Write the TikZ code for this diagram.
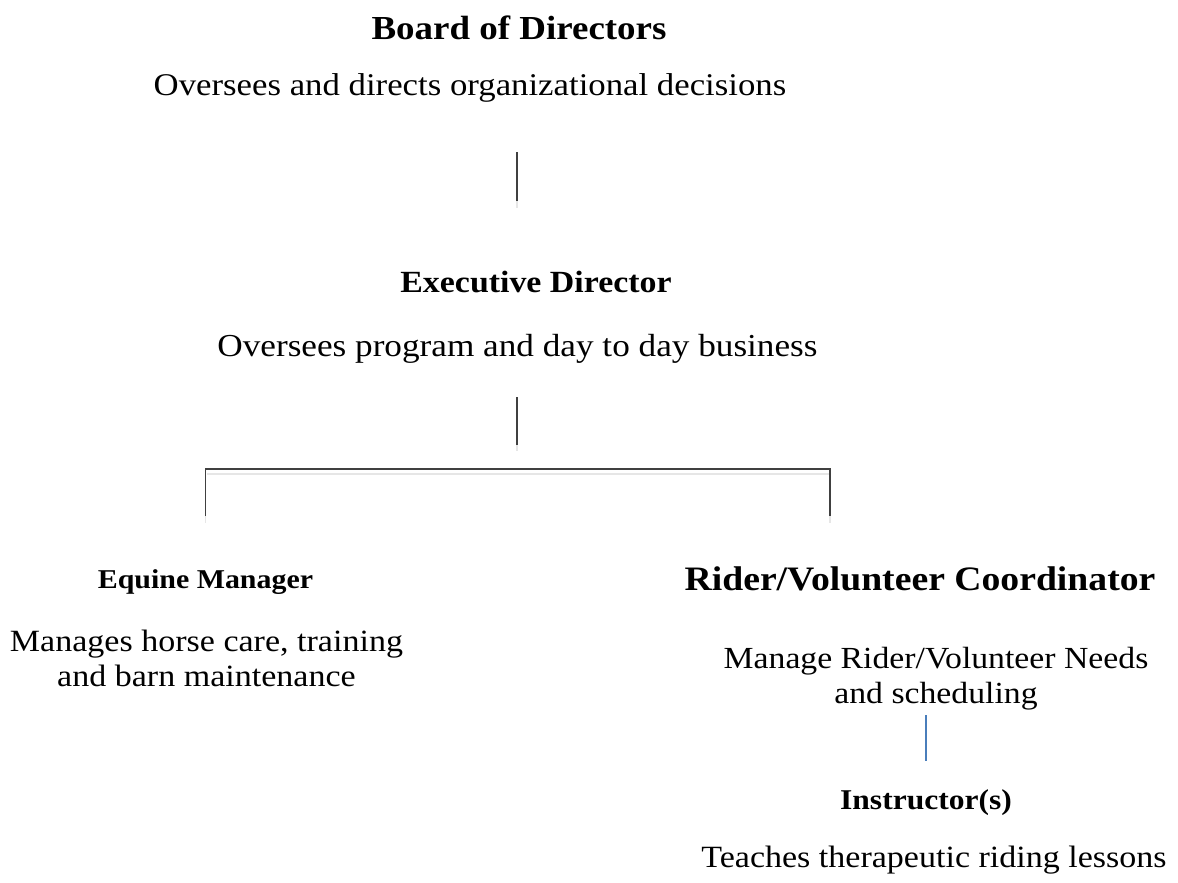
\documentclass[tikz,border=0pt]{standalone}
\usepackage{fontspec}
\setmainfont[FakeStretch=1.1]{Liberation Serif}
\definecolor{linegray}{HTML}{404040}
\definecolor{fadegray}{HTML}{E6E6E6}
\definecolor{lineblue}{HTML}{4A7EBB}
\begin{document}
\begin{tikzpicture}[x=0.75pt,y=-0.75pt,
  title/.style={anchor=base,inner sep=0pt,font=\bfseries\fontsize{#1}{#1}\selectfont},
  desc/.style={anchor=base,inner sep=0pt,align=center,font=\fontsize{#1}{26pt}\selectfont},
  conn/.style={draw=linegray,line width=1.1pt},
  fade/.style={draw=fadegray,line width=1.1pt},
  bconn/.style={draw=lineblue,line width=1.3pt}]
\useasboundingbox (0,0) rectangle (1178,882);
\node[title=25.2pt] (board) at (519,39) {Board of Directors};
\node[desc=23.7pt] (boardd) at (470,95) {Oversees and directs organizational decisions};
\node[title=23.1pt] (exec) at (536,292) {Executive Director};
\node[desc=24pt] (execd) at (517.5,356) {Oversees program and day to day business};
\node[title=20.4pt] (equine) at (205.5,588) {Equine Manager};
\node[desc=23.2pt] (equined) at (206.5,686) {Manages horse care, training\\and barn maintenance};
\node[title=25.7pt] (rider) at (920,590) {Rider/Volunteer Coordinator};
\node[desc=23pt] (riderd) at (936,703) {Manage Rider/Volunteer Needs\\and scheduling};
\node[title=21.5pt] (instr) at (926,809) {Instructor(s)};
\node[desc=23.2pt] (instrd) at (934,867) {Teaches therapeutic riding lessons};
% connectors
\coordinate (a1) at (517,152); \coordinate (a2) at (517,201); \coordinate (a3) at (517,208);
\coordinate (b1) at (517,397); \coordinate (b2) at (517,445); \coordinate (b3) at (517,451);
\coordinate (hl) at (205.5,469); \coordinate (hr) at (830,469);
\coordinate (ll) at (205.5,516); \coordinate (lr) at (830,516);
\coordinate (ml) at (205.5,523); \coordinate (mr) at (830,523);
\coordinate (gl) at (207,474); \coordinate (gr) at (828.5,474);
\coordinate (c1) at (926,715); \coordinate (c2) at (926,761);
\draw[conn] (a1) -- (a2);
\draw[fade] (a2) -- (a3);
\draw[conn] (b1) -- (b2);
\draw[fade] (b2) -- (b3);
\draw[fade] (gl) -- (gr);
\draw[fade] (ll) -- (ml);
\draw[fade] (lr) -- (mr);
\draw[conn] (ll) -- (hl) -- (hr) -- (lr);
\draw[bconn] (c1) -- (c2);
\end{tikzpicture}
\end{document}
